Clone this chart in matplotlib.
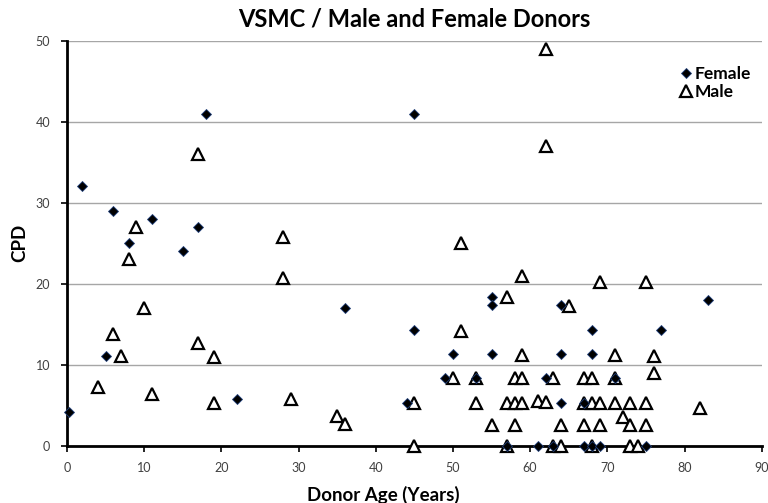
import matplotlib
matplotlib.use('Agg')
import matplotlib.pyplot as plt

plt.rcParams['font.family'] = ['Lato', 'DejaVu Sans']

# Female donors (age, CPD)
female_age = [0.3, 2, 5, 6, 8, 11, 15, 17, 18, 22, 36, 44, 45, 45, 49, 50, 53,
              55, 55, 55, 57, 61, 62, 63, 64, 64, 64, 67, 67, 68, 68, 68, 69,
              71, 75, 77, 83]
female_cpd = [4.1, 32, 11, 29, 25, 28, 24, 27, 41, 5.8, 17, 5.3, 41, 14.3, 8.3,
              11.3, 8.3, 18.3, 17.3, 11.3, 0, 0, 8.3, 0, 17.4, 11.3, 5.3, 5.3,
              0, 14.3, 11.3, 0, 0, 8.3, 0, 14.3, 18]

# Male donors (age, CPD)
male_age = [4, 6, 7, 8, 9, 10, 11, 17, 17, 19, 19, 28, 28, 29, 35, 36, 45, 45,
            50, 51, 51, 53, 53, 55, 57, 57, 57, 58, 58, 58, 59, 59, 59, 59, 61,
            62, 62, 62, 63, 63, 64, 64, 65, 67, 67, 67, 68, 68, 68, 69, 69, 69,
            71, 71, 71, 72, 73, 73, 73, 74, 75, 75, 75, 76, 76, 82]
male_cpd = [7.2, 13.8, 11.1, 23, 27, 17, 6.4, 36, 12.7, 10.9, 5.3, 25.8, 20.7,
            5.7, 3.7, 2.6, 5.2, 0, 8.4, 25, 14.2, 8.3, 5.2, 2.5, 18.4, 5.2, 0,
            8.3, 5.2, 2.5, 21, 11.2, 8.3, 5.2, 5.5, 49, 37, 5.4, 8.3, 0, 2.5, 0,
            17.2, 8.3, 5.2, 2.5, 8.3, 5.2, 0, 20.2, 5.2, 2.5, 11.2, 8.3, 5.2,
            3.5, 5.2, 2.5, 0, 0, 20.2, 5.2, 2.5, 11, 8.9, 4.6]

x_ticks = list(range(0, 91, 10))
y_ticks = list(range(0, 51, 10))

fig = plt.figure(figsize=(7.68, 5.03), dpi=100)
ax = fig.add_axes([0.0872, 0.1143, 0.9046, 0.8047])

ax.plot(male_age, male_cpd, linestyle='none', marker='^', markersize=8,
        markerfacecolor='white', markeredgecolor='black', markeredgewidth=1.6,
        label='Male', zorder=3, clip_on=False)
ax.plot(female_age, female_cpd, linestyle='none', marker='D', markersize=5,
        markerfacecolor='black', markeredgecolor='#1f3f7a', markeredgewidth=0.6,
        label='Female', zorder=4, clip_on=False)

ax.set_xlim(0, 90)
ax.set_ylim(0, 50)
ax.set_xticks(x_ticks)
ax.set_yticks(y_ticks)
ax.grid(axis='y', color='#a6a6a6', linewidth=1)
ax.set_axisbelow(True)
for s in ['top', 'right']:
    ax.spines[s].set_visible(False)
for s in ['left', 'bottom']:
    ax.spines[s].set_linewidth(2)
    ax.spines[s].set_color('black')
    ax.spines[s].set_zorder(2)
ax.tick_params(axis='both', direction='out', length=4, width=1.2,
               labelsize=9, labelcolor='#404040', pad=8)

ax.set_title('VSMC / Male and Female Donors', fontsize=17, fontweight='bold', pad=10)
ax.set_xlabel('Donor Age (Years)', fontsize=13.5, fontweight='bold', labelpad=7)
ax.xaxis.set_label_coords(0.456, -0.1)
ax.set_ylabel('CPD', fontsize=13.5, fontweight='bold', labelpad=5)

handles, labels = ax.get_legend_handles_labels()
leg = ax.legend(handles[::-1], labels[::-1], loc='upper right',
                bbox_to_anchor=(0.995, 0.955), frameon=False, handlelength=0.6,
                handletextpad=0.2, labelspacing=0.1, borderaxespad=0,
                prop={'weight': 'bold', 'size': 12.5})

fig.savefig('out.png', dpi=100)
